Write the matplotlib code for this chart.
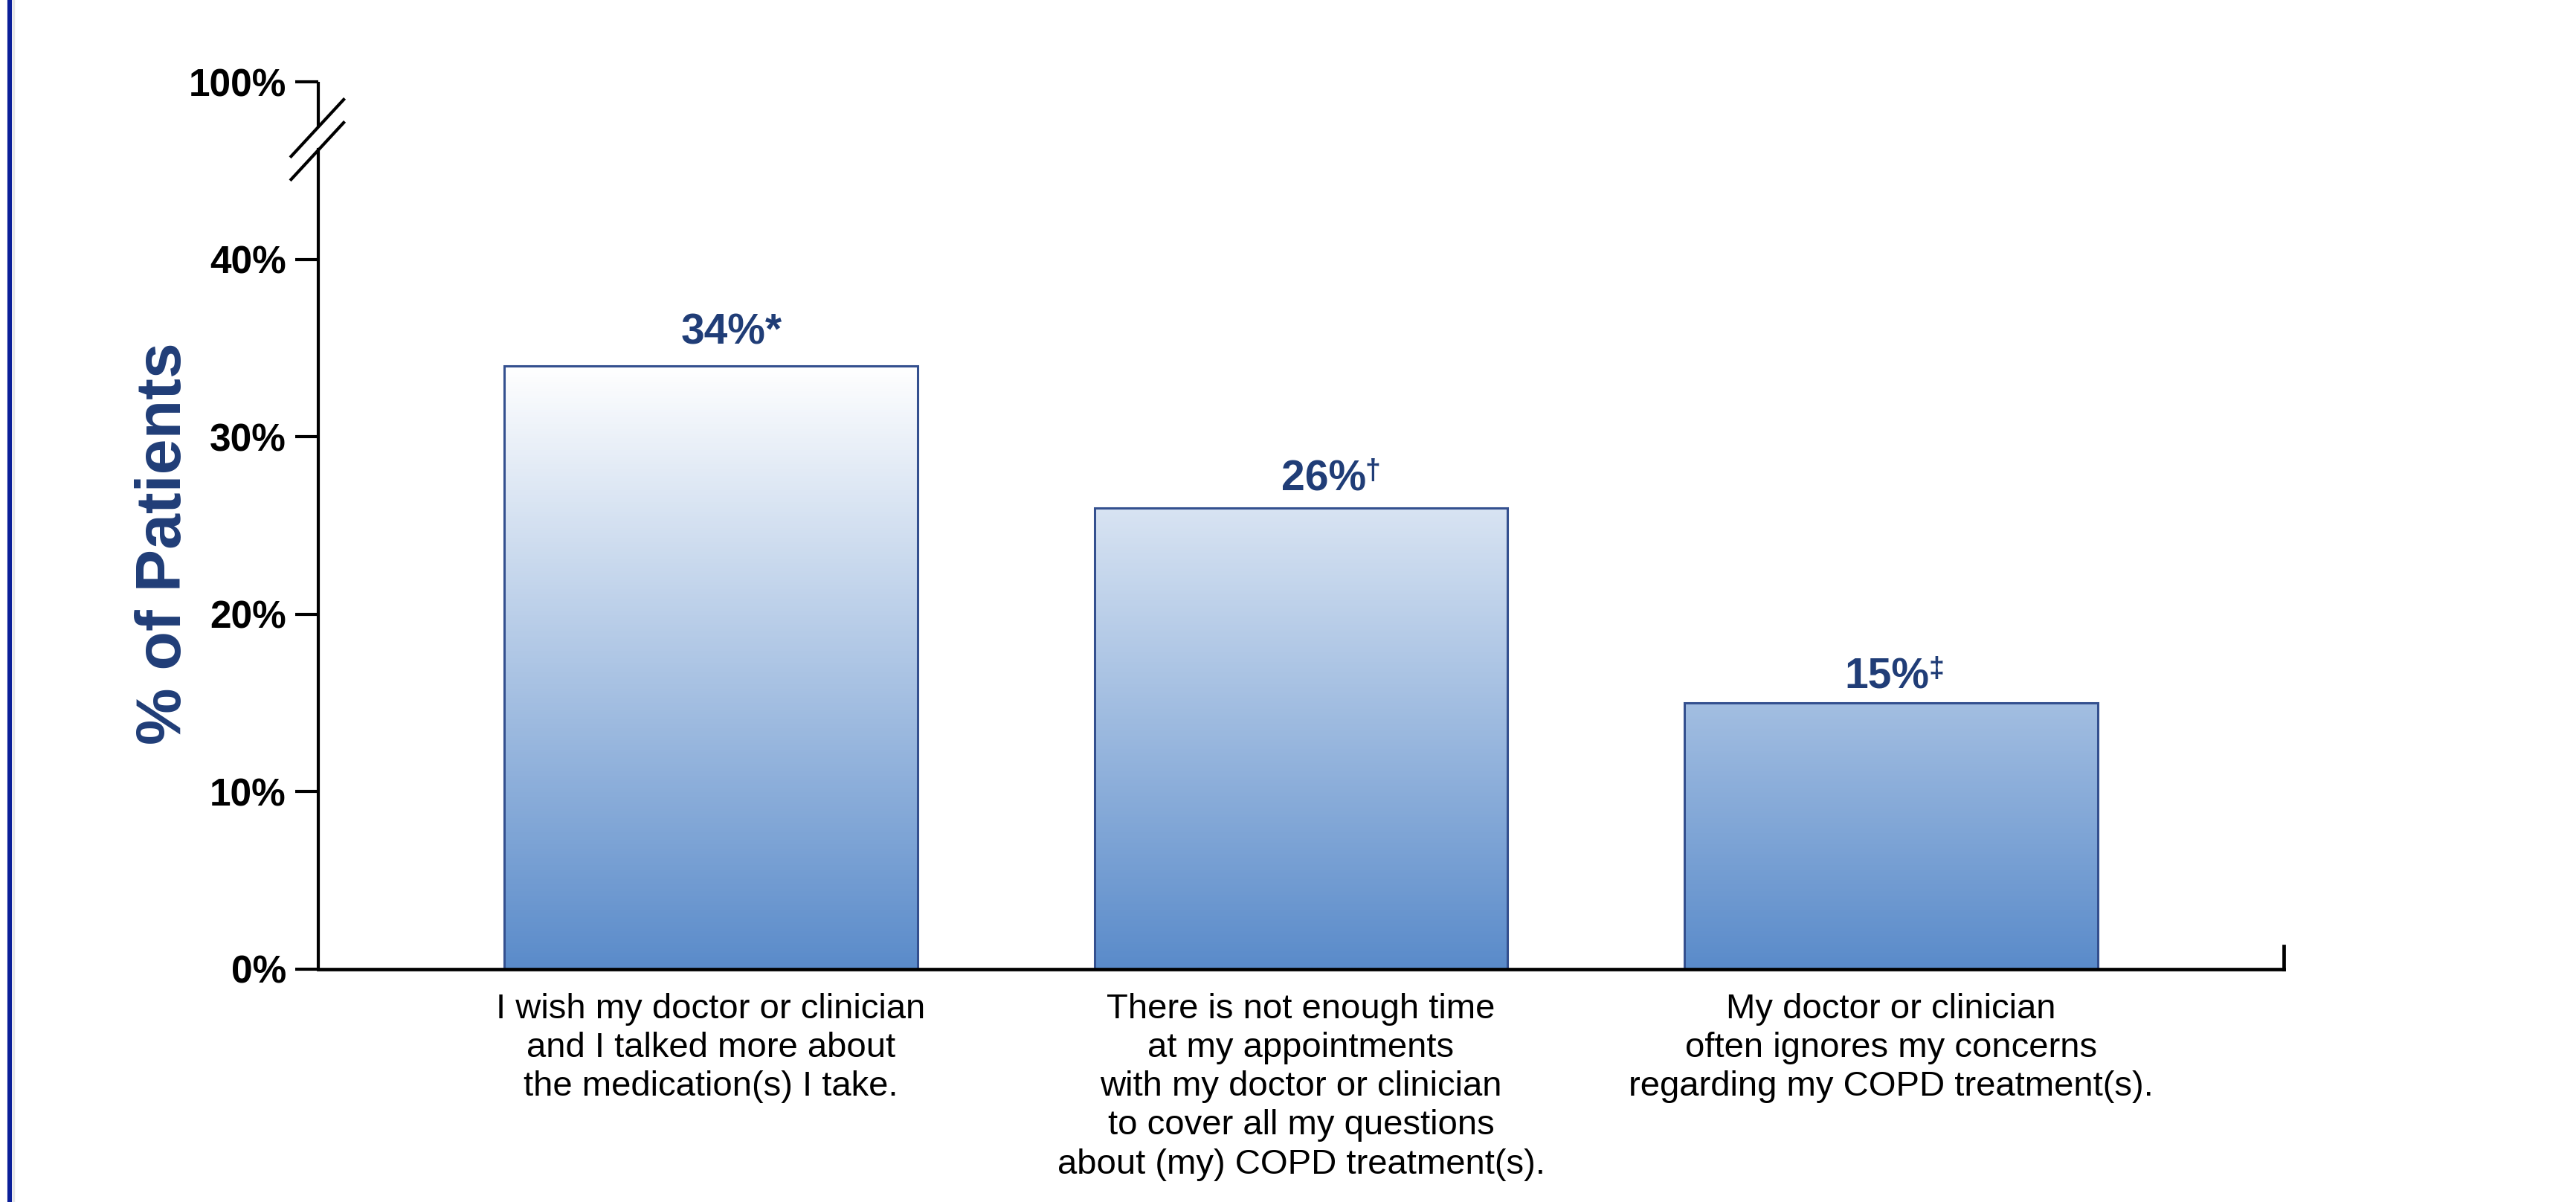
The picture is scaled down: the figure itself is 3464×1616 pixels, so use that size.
import numpy as np
import matplotlib
matplotlib.use("Agg")
import matplotlib.pyplot as plt
from matplotlib.colors import LinearSegmentedColormap
from matplotlib.lines import Line2D

# data
categories = [
    "I wish my doctor or clinician\nand I talked more about\nthe medication(s) I take.",
    "There is not enough time\nat my appointments\nwith my doctor or clinician\nto cover all my questions\nabout (my) COPD treatment(s).",
    "My doctor or clinician\noften ignores my concerns\nregarding my COPD treatment(s).",
]
values = [34, 26, 15]
footnote_marks = ["*", "\u2020", "\u2021"]
tick_values = [0, 10, 20, 30, 40, 100]
tick_labels = ["0%", "10%", "20%", "30%", "40%", "100%"]

NAVY = "#203d77"
BREAK_POS = 50  # where the 100% tick sits above the axis break
# label nudges in points (dx, dy above bar top), as placed on the original slide
label_offsets = [(10, 10.5), (11, 8.5), (-2, 7.2)]

plt.rcParams["font.family"] = ["Liberation Sans", "DejaVu Sans"]

fig = plt.figure(figsize=(17.32, 8.08), dpi=200)
ax = fig.add_axes([428 / 3464, 313 / 1616, 2643 / 3464, 1193 / 1616])

x = np.arange(len(values))
width = 0.7
cmap = LinearSegmentedColormap.from_list("bar_grad", ["#5a8bca", "#ffffff"])
vmax = max(values)

for xi, v in zip(x, values):
    grad = np.linspace(0, v, 256).reshape(-1, 1)
    ax.imshow(grad, extent=(xi - width / 2, xi + width / 2, 0, v), origin="lower",
              cmap=cmap, vmin=0, vmax=vmax, aspect="auto", zorder=1)
ax.bar(x, values, width=width, facecolor="none", edgecolor="#34508f", linewidth=1.1, zorder=2)

# value labels
for xi, v, mark, (dx, dy) in zip(x, values, footnote_marks, label_offsets):
    if mark == "*":
        ax.annotate(f"{v}%*", xy=(xi, v), xytext=(dx, dy), textcoords="offset points",
                    ha="center", va="baseline", fontsize=20.5, fontweight="bold", color=NAVY)
    else:
        t = ax.annotate(f"{v}%", xy=(xi, v), xytext=(dx, dy), textcoords="offset points",
                        ha="center", va="baseline", fontsize=20.5, fontweight="bold", color=NAVY)
        ax.annotate(mark, xy=(1, 1), xycoords=t, xytext=(-0.5, 0.5), textcoords="offset points",
                    ha="left", va="top", fontsize=13.5, fontweight="bold", color=NAVY)

ax.set_xlim(-0.665, 2.665)
ax.set_ylim(0, BREAK_POS)

tick_pos = [v if v <= 40 else BREAK_POS for v in tick_values]
ax.set_yticks(tick_pos)
ax.set_yticklabels(tick_labels, fontsize=18.5, fontweight="bold")
ax.tick_params(axis="y", direction="out", length=11, width=1.5, pad=4.5, color="black")

ax.set_xticks(x)
ax.set_xticklabels(categories, fontsize=17, linespacing=1.24)
ax.tick_params(axis="x", length=0, pad=11.5)

for s in ["top", "right"]:
    ax.spines[s].set_visible(False)
ax.spines["left"].set_linewidth(1.5)
ax.spines["left"].set_bounds(0, 46.2)
ax.spines["bottom"].set_linewidth(1.7)
ax.spines["left"].set_zorder(3)
ax.spines["bottom"].set_zorder(3)

# upper part of broken axis + break marks
x0, x1 = ax.get_xlim()
ax.plot([x0, x0], [47.5, BREAK_POS], color="black", lw=1.5, clip_on=False, solid_capstyle="butt")
ax.plot([x0 - 0.046, x0 + 0.043], [45.8, 49.0], color="black", lw=1.5, clip_on=False)
ax.plot([x0 - 0.046, x0 + 0.043], [44.5, 47.7], color="black", lw=1.5, clip_on=False)
# small upward tick at right end of x axis
ax.plot([x1, x1], [0, 1.3], color="black", lw=1.7, clip_on=False, solid_capstyle="projecting")

ax.text(-0.0785, 0.4795, "% of Patients", transform=ax.transAxes, rotation=90,
        ha="center", va="center", fontsize=31, fontweight="bold", color=NAVY)

# slide border line on the left
fig.add_artist(Line2D([13 / 3464, 13 / 3464], [0, 1], transform=fig.transFigure,
                      color="#0b1f99", lw=2.2))
fig.add_artist(Line2D([18 / 3464, 18 / 3464], [0, 1], transform=fig.transFigure,
                      color="#e6e6e6", lw=1.2))

fig.savefig("out.png", dpi=200)
